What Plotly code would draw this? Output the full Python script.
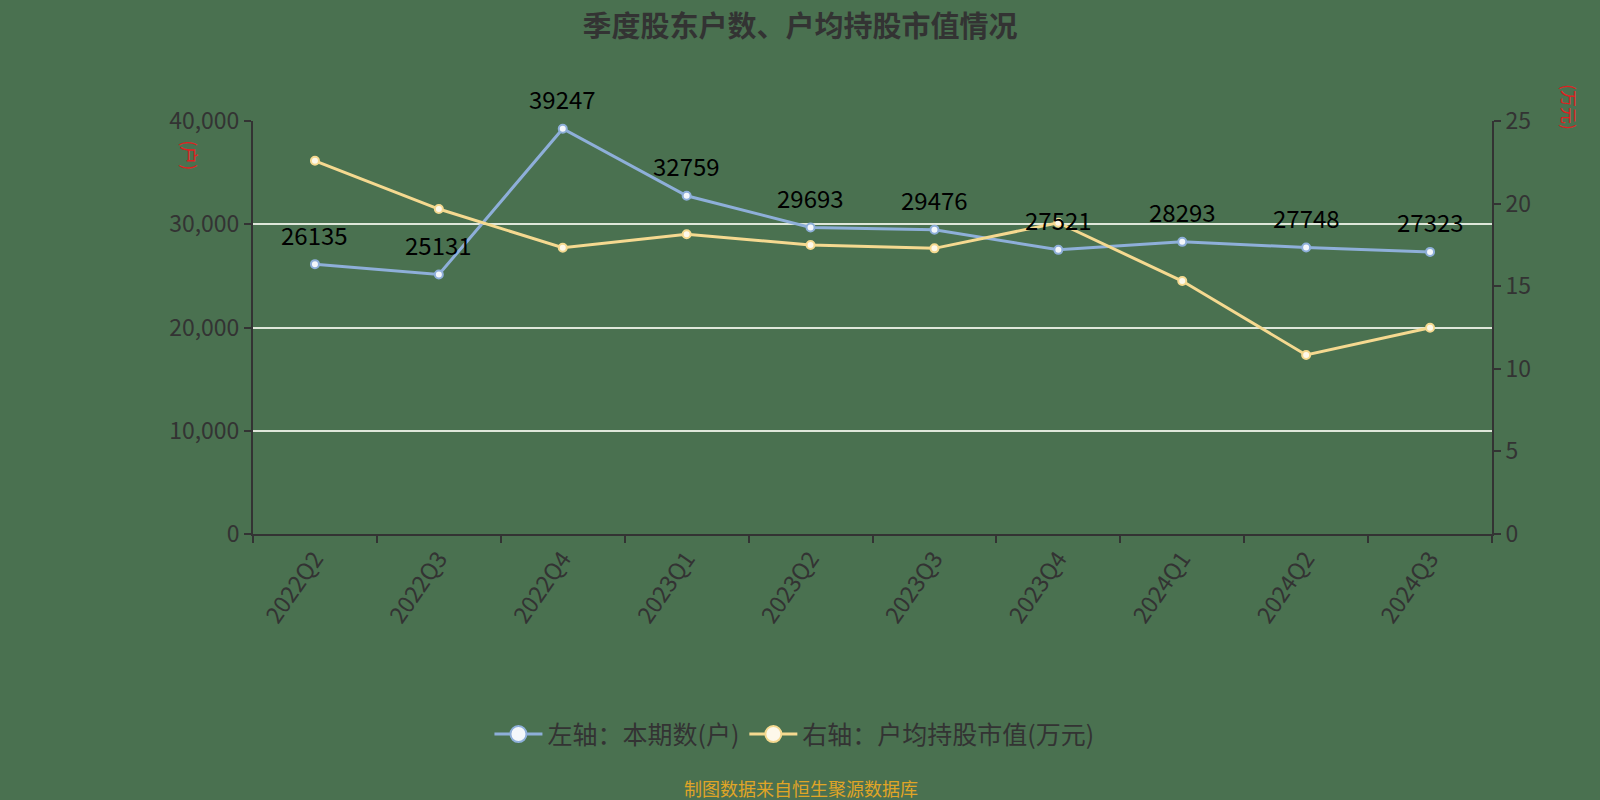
import plotly.graph_objects as go

quarters = ["2022Q2", "2022Q3", "2022Q4", "2023Q1", "2023Q2", "2023Q3", "2023Q4", "2024Q1", "2024Q2", "2024Q3"]
holders = [26135, 25131, 39247, 32759, 29693, 29476, 27521, 28293, 27748, 27323]
avg_value = [22.59, 19.67, 17.33, 18.14, 17.49, 17.29, 18.84, 15.31, 10.84, 12.49]

FONT = "Noto Sans CJK SC"
BG = "#4a7150"
BLUE = "#8eafd9"
YELLOW = "#f5d990"

fig = go.Figure()
fig.add_trace(go.Scatter(
    x=quarters, y=holders, name="左轴：本期数(户)", mode="lines+markers",
    line=dict(color=BLUE, width=3),
    marker=dict(size=8, color="#f4f7fb", line=dict(color=BLUE, width=2)),
    yaxis="y", cliponaxis=False, showlegend=False,
))
fig.add_trace(go.Scatter(
    x=quarters, y=avg_value, name="右轴：户均持股市值(万元)", mode="lines+markers",
    line=dict(color=YELLOW, width=3),
    marker=dict(size=8, color="#fdf8ea", line=dict(color=YELLOW, width=2)),
    yaxis="y2", cliponaxis=False, showlegend=False,
))
# legend-only entries with larger symbols
fig.add_trace(go.Scatter(
    x=[None], y=[None], name="左轴：本期数(户)", mode="lines+markers",
    line=dict(color=BLUE, width=3),
    marker=dict(size=20, color="#f4f7fb", line=dict(color=BLUE, width=2)),
))
fig.add_trace(go.Scatter(
    x=[None], y=[None], name="右轴：户均持股市值(万元)", mode="lines+markers",
    line=dict(color=YELLOW, width=3),
    marker=dict(size=20, color="#fdf8ea", line=dict(color=YELLOW, width=2)),
))

for q, v in zip(quarters, holders):
    fig.add_annotation(x=q, y=v, xref="x", yref="y", text=str(v), showarrow=False,
                       yshift=30, xanchor="center", yanchor="middle",
                       font=dict(family=FONT, size=24, color="#000000"))

fig.update_layout(
    width=1600, height=800,
    paper_bgcolor=BG, plot_bgcolor=BG,
    margin=dict(l=253, r=108, t=121, b=266),
    font=dict(family=FONT, color="#333333"),
    title=dict(text="<b>季度股东户数、户均持股市值情况</b>", x=0.5, xanchor="center",
               y=0.966, yanchor="middle", font=dict(family=FONT, size=29, color="#333333")),
    showlegend=True,
    legend=dict(orientation="h", x=0.437, xanchor="center", y=-0.485, yanchor="middle",
                font=dict(family=FONT, size=25, color="#333333"), bgcolor="rgba(0,0,0,0)",
                itemsizing="trace", itemwidth=48),
    xaxis=dict(type="category", tickson="boundaries", showgrid=False,
               showline=True, linecolor="#333333", linewidth=2,
               ticks="outside", ticklen=7, tickwidth=2, tickcolor="#333333",
               tickangle=-55, tickfont=dict(family=FONT, size=23, color="#333333"),
               range=[-0.5, 9.5]),
    yaxis=dict(range=[0, 40000], dtick=10000, tickformat=",", showgrid=True,
               gridcolor="#dfe7da", gridwidth=1.5, zeroline=False,
               showline=True, linecolor="#333333", linewidth=2,
               ticks="outside", ticklen=7, tickwidth=2, tickcolor="#333333",
               tickfont=dict(family=FONT, size=23, color="#333333")),
    yaxis2=dict(range=[0, 25], dtick=5, overlaying="y", side="right", showgrid=False,
                zeroline=False, showline=True, linecolor="#333333", linewidth=2,
                ticks="outside", ticklen=7, tickwidth=2, tickcolor="#333333",
                tickfont=dict(family=FONT, size=23, color="#333333")),
)

fig.add_annotation(text="(户)", xref="paper", yref="paper", x=-0.0508, y=0.917,
                   xanchor="center", yanchor="middle",
                   showarrow=False, textangle=90,
                   font=dict(family=FONT, size=18, color="#e02020"))
fig.add_annotation(text="(万元)", xref="paper", yref="paper", x=1.063, y=1.033,
                   xanchor="center", yanchor="middle",
                   showarrow=False, textangle=90,
                   font=dict(family=FONT, size=17, color="#e02020"))
fig.add_annotation(text="制图数据来自恒生聚源数据库", xref="paper", yref="paper", x=0.442, y=-0.616,
                   xanchor="center", yanchor="middle", showarrow=False,
                   font=dict(family=FONT, size=18, color="#e0a526"))

fig.write_html("out.html", post_script="document.body.style.margin='0';",
               config={"displayModeBar": False})
